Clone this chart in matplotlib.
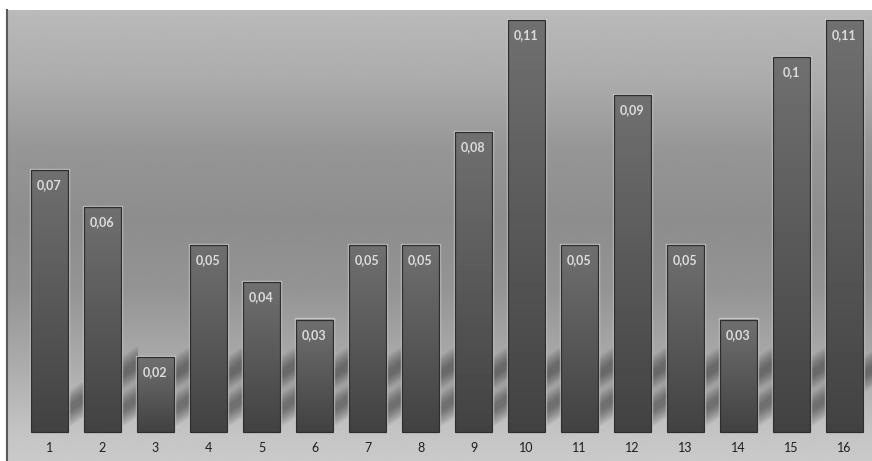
import numpy as np
import matplotlib
matplotlib.use('Agg')
from matplotlib import pyplot as plt
from matplotlib.patches import Polygon, Rectangle

# values
categories = [str(i) for i in range(1, 17)]
values = [0.07, 0.06, 0.02, 0.05, 0.04, 0.03, 0.05, 0.05,
          0.08, 0.11, 0.05, 0.09, 0.05, 0.03, 0.1, 0.11]
labels = ['0,07', '0,06', '0,02', '0,05', '0,04', '0,03', '0,05', '0,05',
          '0,08', '0,11', '0,05', '0,09', '0,05', '0,03', '0,1', '0,11']

fig = plt.figure(figsize=(8.72, 4.61), dpi=100, facecolor='white')
ax = fig.add_axes([7 / 872, 0, 865 / 872, 451 / 461])

x = np.arange(1, len(values) + 1)
bar_w = 0.70
ax.set_xlim(1 - 42.5 / 53, 1 + 822.5 / 53)
ax.set_ylim(-0.00774, 0.11268)

# pixel -> data helpers (for decoration sizes only)
px_x = 1 / 53
px_y = 0.01 / 37.45

# background gradient, top to bottom
stops_y = np.array([0, 70, 140, 210, 280, 350, 422, 451]) / 451
stops_v = np.array([186, 172, 150, 141, 148, 170, 196, 202]) / 255
yy = np.linspace(0, 1, 400)
grad = np.interp(yy, stops_y, stops_v)[:, None]
ax.imshow(grad, cmap='gray', vmin=0, vmax=1, extent=(0, 1, 0, 1),
          transform=ax.transAxes, aspect='auto', zorder=0, interpolation='bicubic')

# soft diagonal shadows behind bars (layered for a blurred look)
for xi in x[:-1]:
    xr = xi + bar_w / 2
    for k in range(8):
        t = 36 - k * 4
        off = k * 2
        pts = [(xr - 4 * px_x, (2 + off) * px_y),
               (xr + 70 * px_x, (50 + off) * px_y),
               (xr + 70 * px_x, (50 + off + t) * px_y),
               (xr - 4 * px_x, (2 + off + t) * px_y)]
        ax.add_patch(Polygon(pts, closed=True, facecolor='#1a1a1a',
                             edgecolor='none', alpha=0.07, zorder=1))

# bars with vertical gradient
bar_grad = np.linspace(112, 66, 100)[:, None] / 255
for xi, v, lab in zip(x, values, labels):
    x0 = xi - bar_w / 2
    ax.add_patch(Rectangle((x0 - 1.2 * px_x, 0), bar_w + 2.4 * px_x, v + 1.2 * px_y,
                           facecolor='none', edgecolor='#d4d4d4', lw=1.0,
                           alpha=0.7, zorder=2))
    im = ax.imshow(bar_grad, cmap='gray', vmin=0, vmax=1,
                   extent=(x0, x0 + bar_w, 0, v), aspect='auto', zorder=3,
                   interpolation='bicubic')
    rect = Rectangle((x0, 0), bar_w, v, facecolor='none',
                     edgecolor='#2e2e2e', lw=0.9, zorder=4)
    ax.add_patch(rect)
    im.set_clip_path(rect)
    ax.text(xi, v - 15 * px_y, lab, ha='center', va='center', color='#dcdcdc',
            fontsize=9, fontweight='bold', family='Lato', zorder=5)

for xi, c in zip(x, categories):
    ax.text(xi, -15.5 * px_y, c, ha='center', va='center', color='#1e1e1e',
            fontsize=9, family='Lato', zorder=5)

ax.set_xticks([])
ax.set_yticks([])
for s in ['top', 'right', 'bottom']:
    ax.spines[s].set_visible(False)
ax.spines['left'].set_color('#5a5a5a')
ax.spines['left'].set_linewidth(1.5)

fig.savefig('out.png', dpi=100, facecolor='white')
